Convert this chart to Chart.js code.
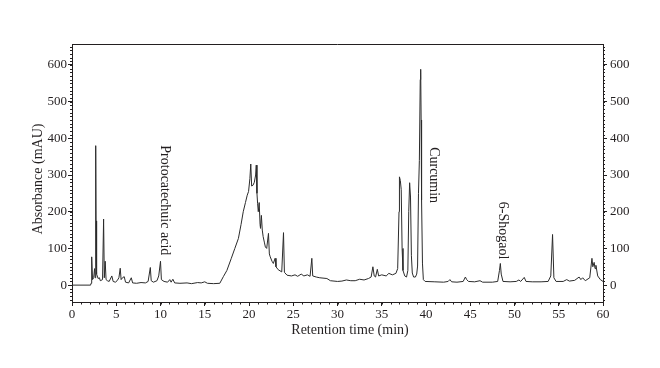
<!DOCTYPE html>
<html>
<head>
<meta charset="utf-8">
<script src="https://cdn.jsdelivr.net/npm/chart.js@4/dist/chart.umd.min.js"></script>
<style>
  body { margin: 0; background: #fff; }
  #wrap { width: 660px; height: 368px; }
</style>
</head>
<body>
<div id="wrap"><canvas id="hplc"></canvas></div>
<script>
// retention time (min) and absorbance (mAU)
const times = [
  0, 2.1, 2.15, 2.2, 2.25, 2.32, 2.45, 2.55, 2.62, 2.66, 2.7, 2.74, 2.76, 2.8, 2.95,
  3.1, 3.2, 3.45, 3.57, 3.65, 3.75, 3.85, 4.0, 4.2, 4.5, 4.65, 4.9, 5.1, 5.3, 5.45,
  5.55, 5.7, 5.9, 6.05, 6.4, 6.7, 6.85, 7.3, 7.8, 8.3, 8.6, 8.85, 8.95, 9.2, 9.6,
  9.8, 10.0, 10.1, 10.4, 10.8, 11.05, 11.2, 11.4, 11.6, 12.2, 13.0, 13.5, 14.2, 14.6,
  15.0, 15.3, 16.0, 16.7, 17.1, 17.5, 18.0, 18.4, 18.8, 19.1, 19.35, 19.6, 19.8,
  19.95, 20.1, 20.2, 20.3, 20.45, 20.6, 20.75, 20.82, 20.9, 20.97, 21.05, 21.15,
  21.25, 21.3, 21.4, 21.5, 21.6, 21.75, 21.85, 22.0, 22.2, 22.3, 22.4, 22.6, 22.75,
  22.95, 23.05, 23.3, 23.7, 23.9, 24.0, 24.3, 24.8, 25.2, 25.5, 25.9, 26.2, 26.6,
  26.9, 27.1, 27.2, 27.6, 28.0, 28.8, 29.2, 30.0, 30.5, 31.0, 31.5, 32.0, 32.5, 33.0,
  33.5, 33.8, 34.0, 34.15, 34.3, 34.5, 34.65, 35.0, 35.5, 35.8, 36.2, 36.6, 36.8,
  36.95, 37.0, 37.1, 37.2, 37.3, 37.4, 37.6, 37.8, 37.95, 38.05, 38.15, 38.25, 38.35,
  38.45, 38.6, 38.8, 38.95, 39.05, 39.15, 39.25, 39.35, 39.4, 39.45, 39.5, 39.6, 39.7,
  39.9, 41.0, 42.0, 42.5, 42.7, 42.9, 43.5, 44.2, 44.45, 44.6, 44.8, 45.5, 46.1, 46.4,
  47.5, 48.1, 48.3, 48.4, 48.5, 48.7, 49.5, 50.2, 50.5, 50.7, 51.1, 51.3, 52.0, 53.0,
  53.8, 54.1, 54.3, 54.45, 54.7, 55.5, 55.9, 56.2, 56.8, 57.3, 57.5, 57.7, 58.0, 58.5,
  58.75, 58.85, 59.0, 59.1, 59.2, 59.4, 59.7, 60.0
];
const absorbance = [
  0, 0, 5, 40, 77, 15, 20, 45, 20, 85, 380, 60, 175, 30, 18,
  20, 12, 15, 180, 20, 65, 15, 12, 10, 25, 10, 8, 12, 20, 46,
  15, 20, 23, 8, 6, 20, 6, 5, 7, 6, 10, 48, 12, 8, 12,
  25, 65, 15, 10, 8, 15, 8, 16, 6, 5, 6, 4, 7, 6,
  9, 5, 4, 5, 23, 40, 73, 100, 127, 165, 200, 225, 245,
  255, 290, 330, 270, 272, 280, 300, 327, 250, 223, 200, 225,
  165, 155, 190, 150, 132, 115, 104, 100, 141, 85, 77, 65, 59,
  73, 50, 42, 36, 143, 35, 27, 25, 28, 24, 30, 25, 28,
  24, 73, 25, 22, 20, 18, 12, 10, 11, 14, 12, 12, 16, 14,
  18, 22, 50, 25, 22, 43, 25, 28, 25, 32, 28, 32, 45,
  200, 295, 285, 260, 100, 40, 25, 22, 40, 200, 279, 240, 80,
  33, 22, 22, 30, 52, 250, 340, 560, 588, 450, 232, 60, 15,
  10, 9, 8, 10, 15, 9, 8, 10, 22, 15, 10, 9, 12, 8,
  8, 10, 40, 59, 30, 10, 9, 10, 14, 10, 21, 10, 9, 9,
  10, 25, 138, 20, 10, 10, 15, 11, 13, 22, 15, 20, 12, 20,
  73, 50, 62, 45, 54, 25, 15, 10
];

// compound labels: name, retention time of label centre, value at top of label
const peakNames = ['Protocatechuic acid', 'Curcumin', '6-Shogaol'];
const peakTimes = [10.5, 40.9, 48.7];
const peakTops = [381, 376, 227];

const xTicks = [0, 5, 10, 15, 20, 25, 30, 35, 40, 45, 50, 55, 60];
const yTicks = [0, 100, 200, 300, 400, 500, 600];

const SERIF = '"Liberation Serif", "DejaVu Serif", serif';
const INK = '#231f20';

const extras = {
  id: 'extras',
  afterDraw(chart) {
    const { ctx, chartArea: a, scales: { x, y } } = chart;
    ctx.save();
    ctx.strokeStyle = INK;
    ctx.lineWidth = 1;
    ctx.beginPath();
    // top frame line
    ctx.moveTo(a.left, Math.round(a.top) + 0.5);
    ctx.lineTo(a.right, Math.round(a.top) + 0.5);
    // minor ticks
    for (let t = 0; t <= 60; t++) {
      const px = Math.round(x.getPixelForValue(t)) + 0.5;
      ctx.moveTo(px, a.bottom);
      ctx.lineTo(px, a.bottom + 2.5);
    }
    for (let v = -40; v <= 650; v += 10) {
      const py = Math.round(y.getPixelForValue(v)) + 0.5;
      ctx.moveTo(a.left - 2, py);
      ctx.lineTo(a.left, py);
      ctx.moveTo(a.right, py);
      ctx.lineTo(a.right + 2, py);
    }
    ctx.stroke();

    // compound names, rotated
    ctx.fillStyle = INK;
    ctx.font = '14px ' + SERIF;
    ctx.textAlign = 'left';
    ctx.textBaseline = 'middle';
    peakNames.forEach((name, i) => {
      ctx.save();
      ctx.translate(x.getPixelForValue(peakTimes[i]), y.getPixelForValue(peakTops[i]));
      ctx.rotate(Math.PI / 2);
      ctx.fillText(name, 0, 0);
      ctx.restore();
    });

    // axis titles
    ctx.textAlign = 'center';
    ctx.fillText('Retention time (min)', 350, 330);
    ctx.save();
    ctx.translate(38, 179);
    ctx.rotate(-Math.PI / 2);
    ctx.fillText('Absorbance (mAU)', 0, 0);
    ctx.restore();
    ctx.restore();
  }
};

const tickFont = { family: SERIF, size: 13 };

new Chart(document.getElementById('hplc'), {
  type: 'line',
  data: {
    datasets: [{
      data: times.map((t, i) => ({ x: t, y: absorbance[i] })),
      borderColor: '#2b2b2b',
      borderWidth: 1,
      pointRadius: 0,
      tension: 0,
      fill: false
    }]
  },
  options: {
    responsive: true,
    maintainAspectRatio: false,
    animation: false,
    layout: { padding: { top: 44, left: 0, right: 0, bottom: 0 } },
    plugins: { legend: { display: false }, tooltip: { enabled: false } },
    scales: {
      x: {
        type: 'linear',
        min: 0,
        max: 60,
        afterFit: s => { s.height = 66; },
        afterBuildTicks: s => { s.ticks = xTicks.map(v => ({ value: v })); },
        ticks: { font: tickFont, color: INK, padding: 1, maxRotation: 0 },
        grid: { drawOnChartArea: false, tickLength: 4, color: INK },
        border: { color: INK, width: 1 }
      },
      y: {
        position: 'left',
        min: -46,
        max: 657,
        afterFit: s => { s.width = 72; },
        afterBuildTicks: s => { s.ticks = yTicks.map(v => ({ value: v })); },
        ticks: { font: tickFont, color: INK, padding: 1 },
        grid: { drawOnChartArea: false, tickLength: 4, color: INK },
        border: { color: INK, width: 1 }
      },
      y1: {
        position: 'right',
        min: -46,
        max: 657,
        afterFit: s => { s.width = 57; },
        afterBuildTicks: s => { s.ticks = yTicks.map(v => ({ value: v })); },
        ticks: { font: tickFont, color: INK, padding: 3 },
        grid: { drawOnChartArea: false, tickLength: 4, color: INK },
        border: { color: INK, width: 1 }
      }
    }
  },
  plugins: [extras]
});
</script>
</body>
</html>
